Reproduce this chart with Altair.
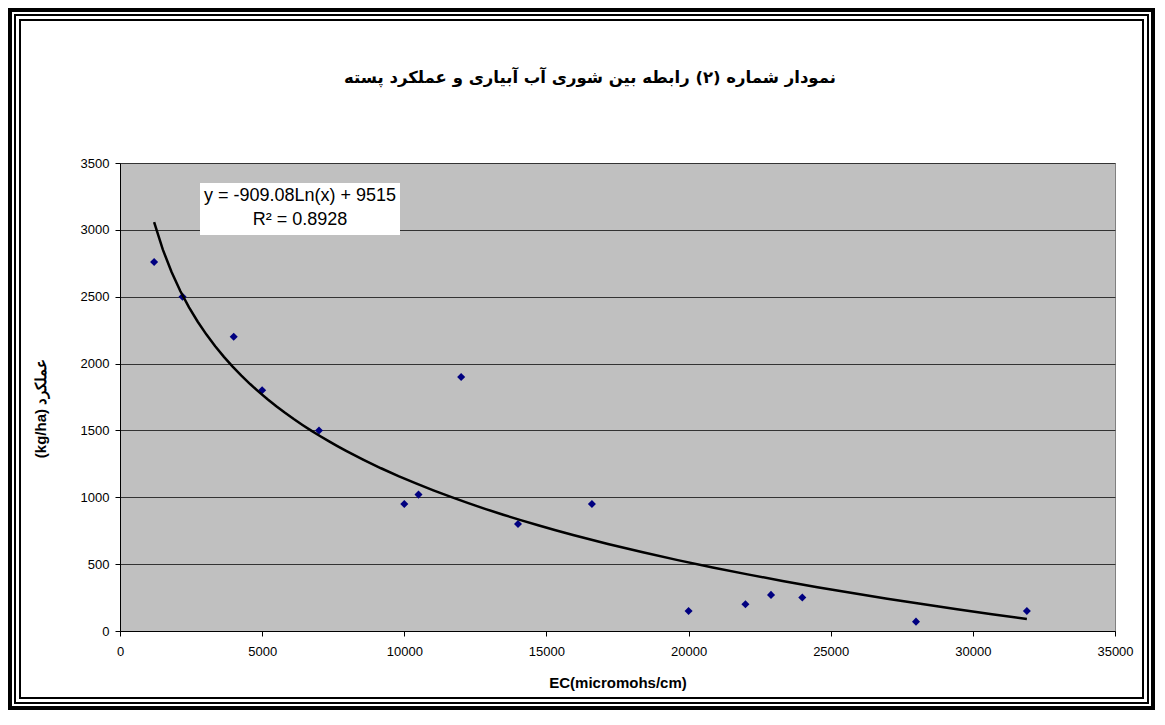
import altair as alt
import pandas as pd

# Data
ec = [1200, 2200, 4000, 5000, 7000, 10000, 10500, 12000, 14000, 16600,
      20000, 22000, 22900, 24000, 28000, 31900]
yield_kg = [2760, 2500, 2200, 1800, 1500, 950, 1020, 1900, 800, 950,
            150, 200, 270, 250, 70, 150]

title_text = "نمودار شماره (۲) رابطه بین شوری آب آبیاری و عملکرد پسته"
eq_line1 = "y = -909.08Ln(x) + 9515"
eq_line2 = "R² = 0.8928"
x_title = "EC(micromohs/cm)"
y_title = "(kg/ha) عملکرد"

df = pd.DataFrame({"EC": ec, "Yield": yield_kg})
one = pd.DataFrame({"a": [0]})

W, H = 995, 468
PAD_L, PAD_T, PAD_R, PAD_B = 112, 155, 40, 79

xs = alt.Scale(domain=[0, 35000], nice=False)
ys = alt.Scale(domain=[0, 3500], nice=False)

points = alt.Chart(df).mark_point(
    shape="diamond", filled=True, color="#000080", size=65, opacity=1
).encode(
    x=alt.X("EC:Q", scale=xs,
            axis=alt.Axis(values=list(range(0, 35001, 5000)), grid=False,
                          title=x_title, format="d")),
    y=alt.Y("Yield:Q", scale=ys,
            axis=alt.Axis(values=list(range(0, 3501, 500)), grid=True,
                          title=y_title, titleAngle=270, titleX=-80, titleY=245,
                          titleAlign="center", titleBaseline="middle",
                          titleFontSize=15, format="d")),
)

trend = alt.Chart(df).transform_regression(
    "EC", "Yield", method="log", extent=[1200, 31900]
).mark_line(color="black", strokeWidth=2.5).encode(
    x=alt.X("EC:Q", scale=xs),
    y=alt.Y("Yield:Q", scale=ys),
)

eq_box = alt.Chart(one).mark_rect(color="white").encode(
    x=alt.value(80), x2=alt.value(280), y=alt.value(20), y2=alt.value(72)
)
eq_t1 = alt.Chart(one).mark_text(
    text=eq_line1, font="Liberation Sans", fontSize=18, color="black",
    align="center", baseline="middle"
).encode(x=alt.value(180), y=alt.value(33))
eq_t2 = alt.Chart(one).mark_text(
    text=eq_line2, font="Liberation Sans", fontSize=18, color="black",
    align="center", baseline="middle"
).encode(x=alt.value(180), y=alt.value(57))

title = alt.Chart(one).mark_text(
    text=title_text, font="DejaVu Sans", fontSize=16.5, fontWeight="bold",
    color="black", align="center", baseline="middle"
).encode(x=alt.value(470), y=alt.value(-85))

def frame(x1, x2, y1, y2, sw):
    return alt.Chart(one).mark_rect(
        fillOpacity=0, stroke="black", strokeWidth=sw
    ).encode(x=alt.value(x1), x2=alt.value(x2), y=alt.value(y1), y2=alt.value(y2))

total_w = PAD_L + W + PAD_R
total_h = PAD_T + H + PAD_B
f_outer = frame(2 - PAD_L, total_w - 2 - PAD_L, 2 - PAD_T, total_h - 2 - PAD_T, 4)
f_mid = frame(7 - PAD_L, total_w - 7 - PAD_L, 7 - PAD_T, total_h - 7 - PAD_T, 2)
f_in = frame(12 - PAD_L, total_w - 12 - PAD_L, 12 - PAD_T, total_h - 12 - PAD_T, 2)

chart = alt.layer(
    points, trend, eq_box, eq_t1, eq_t2, title, f_outer, f_mid, f_in
).properties(
    width=W, height=H,
    autosize=alt.AutoSizeParams(type="none"),
    padding={"left": PAD_L, "top": PAD_T, "right": PAD_R, "bottom": PAD_B},
).configure(
    background="white"
).configure_view(
    fill="#C0C0C0", stroke="#808080", strokeWidth=1
).configure_axis(
    labelFont="Liberation Sans", labelFontSize=13, labelColor="black",
    titleFont="Liberation Sans", titleFontWeight="bold", titleColor="black",
    domainColor="black", tickColor="black", tickSize=5, domainWidth=1,
    gridColor="#333333", gridWidth=1, gridOpacity=1,
).configure_axisX(
    labelPadding=9, titleFontSize=15, titlePadding=17, labelFlush=False
).configure_axisY(
    labelPadding=6
)

chart.save("out.html", embed_options={"renderer": "svg", "actions": False})
